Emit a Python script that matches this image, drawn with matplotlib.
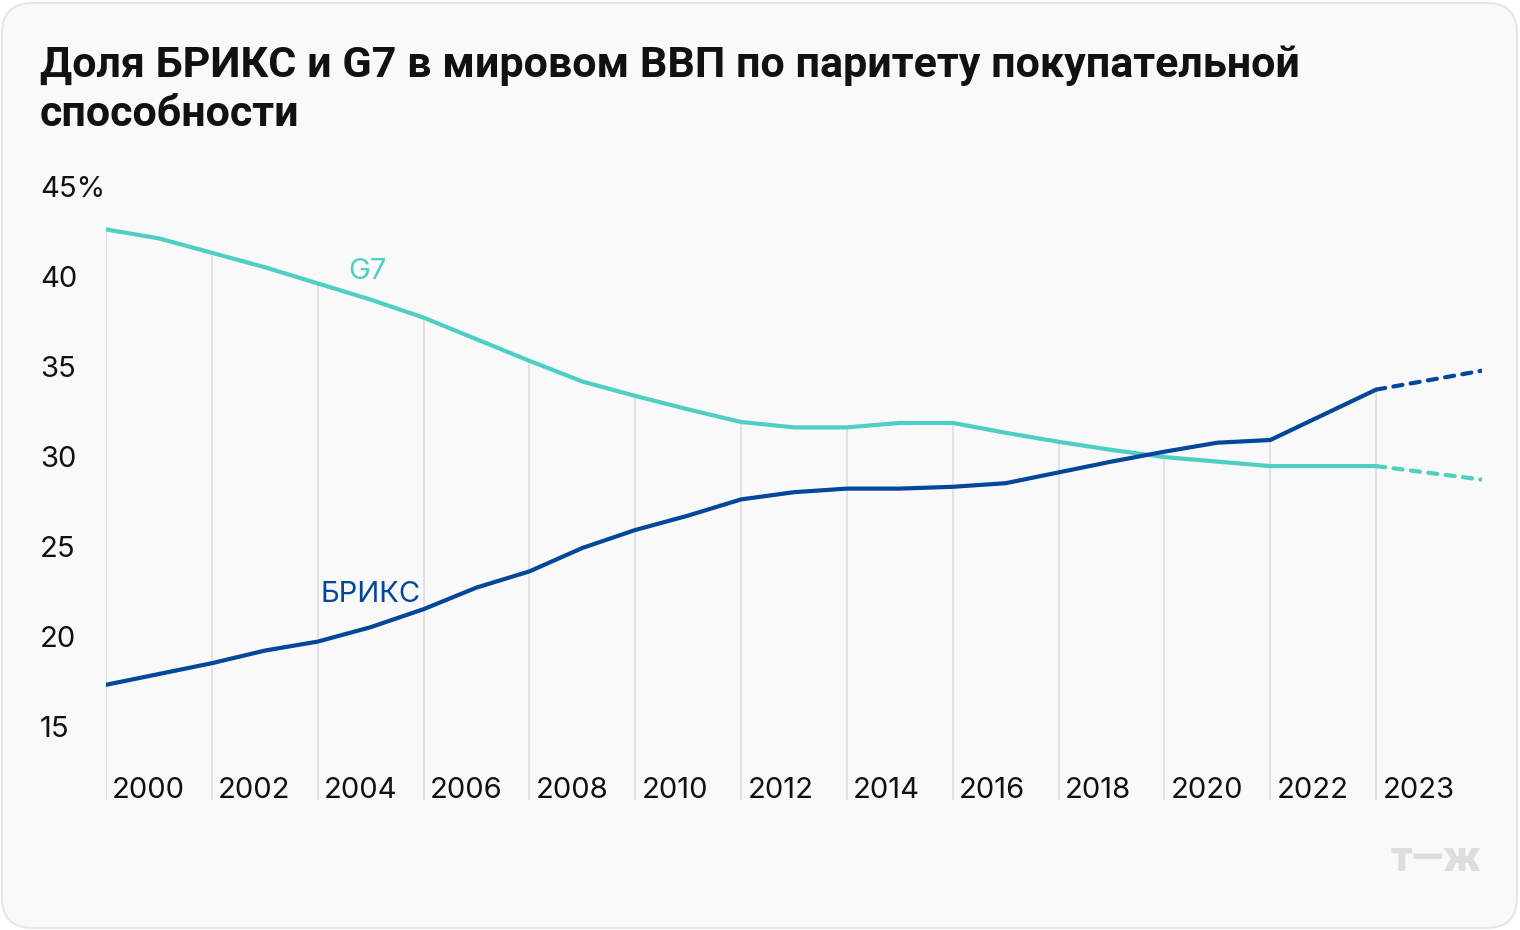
import numpy as np
import matplotlib.pyplot as plt
from matplotlib.patches import FancyBboxPatch

# Data (share of world GDP by PPP, %)
years = list(range(2000, 2023)) + [2024]
brics = [17.4, 18.0, 18.6, 19.3, 19.8, 20.6, 21.6, 22.8, 23.7, 25.0, 26.0, 26.8,
         27.7, 28.1, 28.3, 28.3, 28.4, 28.6, 29.2, 29.8, 30.35, 30.85, 31.0, 33.8]
g7 = [42.7, 42.2, 41.4, 40.6, 39.7, 38.8, 37.8, 36.6, 35.4, 34.25, 33.45, 32.7,
      32.0, 31.7, 31.7, 31.95, 31.95, 31.4, 30.9, 30.45, 30.05, 29.8, 29.55, 29.55]
forecast_years = [2024, 2026]
brics_forecast = [33.8, 34.85]
g7_forecast = [29.55, 28.8]

grid_years = list(range(2000, 2025, 2))
year_labels = ['2000', '2002', '2004', '2006', '2008', '2010', '2012', '2014',
               '2016', '2018', '2020', '2022', '2023']
y_ticks = [15, 20, 25, 30, 35, 40, 45]
y_labels = ['15', '20', '25', '30', '35', '40', '45%']

teal = '#4ECFC4'
navy = '#03479A'
plt.rcParams['font.family'] = ['Inter', 'DejaVu Sans']

fig = plt.figure(figsize=(15.2, 9.3), dpi=100)
fig.patch.set_facecolor('white')
card = FancyBboxPatch((2 / 1520, 2 / 930), 1515 / 1520, 925 / 930,
                      boxstyle='round,pad=0,rounding_size=0.02',
                      transform=fig.transFigure, facecolor='#F9F9F9',
                      edgecolor='#E6E6E6', linewidth=1.5, mutation_aspect=1520 / 930,
                      zorder=-10)
fig.patches.append(card)

ax = fig.add_axes([106 / 1520, 130 / 930, 1376 / 1520, 612 / 930])
ax.set_xlim(2000, 2026)
ax.set_ylim(11, 45)
ax.axis('off')

# vertical grid lines run from the bottom up to the upper series
top_vals = np.maximum(np.interp(grid_years, years + [2026], brics + [brics_forecast[1]]),
                      np.interp(grid_years, years + [2026], g7 + [g7_forecast[1]]))
ax.vlines(grid_years, 11, top_vals, color='#E2E2E2', linewidth=1.5, zorder=1)

ax.plot(years, g7, color=teal, linewidth=3, solid_joinstyle='round',
        solid_capstyle='round', zorder=3)
ax.plot(years, brics, color=navy, linewidth=3, solid_joinstyle='round',
        solid_capstyle='round', zorder=4)
ax.plot(forecast_years, g7_forecast, color=teal, linewidth=3, dashes=(2.2, 2.0),
        dash_capstyle='round', zorder=3)
ax.plot(forecast_years, brics_forecast, color=navy, linewidth=3, dashes=(2.2, 2.0),
        dash_capstyle='round', zorder=4)

for v, lab in zip(y_ticks, y_labels):
    ax.text(-66 / 1376, v - 0.1, lab, transform=ax.get_yaxis_transform(),
            ha='left', va='center', fontsize=21, color='#111111')

for x, lab in zip(grid_years, year_labels):
    ax.annotate(lab, xy=(x, 0), xycoords=('data', 'axes fraction'),
                xytext=(4.5, 6.5), textcoords='offset points',
                ha='left', va='center', fontsize=21, color='#111111')

ax.text(2004.58, 40.35, 'G7', color=teal, fontsize=21, ha='left', va='center')
ax.text(2004.05, 22.4, 'БРИКС', color=navy, fontsize=21, ha='left', va='center')

fig.text(40 / 1520, 1 - 45 / 930,
         'Доля БРИКС и G7 в мировом ВВП по паритету покупательной\nспособности',
         fontsize=31, fontweight='bold', va='top', ha='left', linespacing=1.24,
         family=['Roboto', 'DejaVu Sans'], color='#111111')

fig.text(1481 / 1520, 1 - 859 / 930, 'т—ж', fontsize=30, fontweight='black',
         color='#DDDDDD', ha='right', va='center', family=['Roboto', 'DejaVu Sans'])

fig.savefig('out.png', dpi=100)
